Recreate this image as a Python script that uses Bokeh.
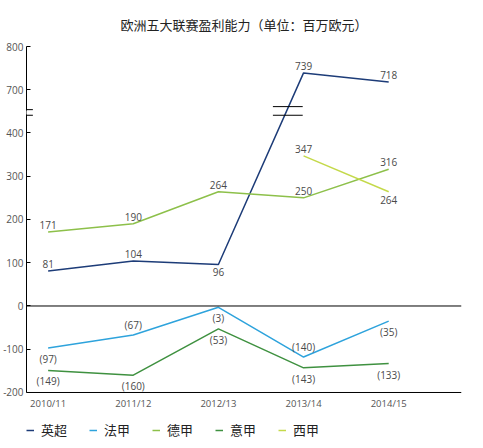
from bokeh.plotting import figure
from bokeh.models import (Span, FixedTicker, Legend, LegendItem, Arrow,
                          ColumnDataSource, Title)
from bokeh.core.properties import value
from bokeh.embed import file_html
from bokeh.resources import INLINE

# seasons on the x axis
seasons = ["2010/11", "2011/12", "2012/13", "2013/14", "2014/15"]

# profit per league (million EUR)
epl = [81, 104, 96, 739, 718]
ligue1 = [-97, -67, -3, -118, -35]      # plotted point for 2013/14 sits near -118
bundesliga = [171, 190, 264, 250, 316]
serie_a = [-149, -160, -53, -143, -133]
laliga = [347, 264]                      # only 2013/14 and 2014/15
laliga_seasons = [3, 4]

# label texts printed next to the points
epl_labels = ["81", "104", "96", "739", "718"]
ligue1_labels = ["(97)", "(67)", "(3)", "(140)", "(35)"]
bundesliga_labels = ["171", "190", "264", "250", "316"]
serie_a_labels = ["(149)", "(160)", "(53)", "(143)", "(133)"]
laliga_labels = ["347", "264"]

y_ticks = [-200, -100, 0, 100, 200, 300, 400, 700, 800]

# broken axis: everything above the break is drawn 200 lower
BREAK_SHIFT = 200
BREAK_AT = 500


def to_axis(v):
    return v - BREAK_SHIFT if v > BREAK_AT else v


FONT = "Open Sans"
CJK = "Noto Sans CJK SC"
LABEL_COLOR = "#4a4a4a"
X0, X1 = -0.254, 4.855
Y_BOTTOM = -200
# the frame reaches below the x axis so the legend fits inside it
p = figure(frame_width=435, frame_height=393, output_backend="svg",
           toolbar_location=None, x_range=(X0, X1), y_range=(-308.7, 600),
           min_border_left=0, min_border_right=8, min_border_top=10,
           min_border_bottom=0)
p.title = None
p.add_layout(Title(text="欧洲五大联赛盈利能力（单位：百万欧元）", align="center",
                   text_font=CJK, text_font_size="13px", text_font_style="normal",
                   text_color="#222222", offset=-13, standoff=25), "above")

p.grid.visible = False
p.outline_line_color = None
p.xaxis.visible = False

# y axis with relabelled ticks
p.yaxis.bounds = (Y_BOTTOM, 600)
p.yaxis.ticker = FixedTicker(ticks=[to_axis(t) for t in y_ticks])
p.yaxis.major_label_overrides = {to_axis(t): str(t) for t in y_ticks}
p.yaxis.major_tick_in = 4
p.yaxis.major_tick_out = 0
p.yaxis.minor_tick_line_color = None
p.yaxis.axis_line_color = "black"
p.yaxis.major_tick_line_color = "black"
p.yaxis.major_label_text_font = FONT
p.yaxis.major_label_text_font_size = "10px"
p.yaxis.major_label_text_color = "#555555"
p.yaxis.major_label_standoff = 3

# x axis line, zero line and season labels
p.add_layout(Span(location=Y_BOTTOM, dimension="width", line_color="black", line_width=1))
p.add_layout(Span(location=0, dimension="width", line_color="black", line_width=1))
x_all = list(range(len(seasons)))
p.text(x_all, [Y_BOTTOM] * len(seasons), text=seasons, text_align="center",
       text_baseline="top", y_offset=5, text_font_size="9.5px",
       text_font=value(FONT), text_color="#555555")

series = [
    ("英超", "#1d3c78", x_all, epl, epl_labels),
    ("法甲", "#2ea3dc", x_all, ligue1, ligue1_labels),
    ("德甲", "#8dc04a", x_all, bundesliga, bundesliga_labels),
    ("意甲", "#3f9140", x_all, serie_a, serie_a_labels),
    ("西甲", "#c4d94a", laliga_seasons, laliga, laliga_labels),
]

# which labels go under their point
below = {
    "英超": [2],
    "法甲": [0, 2, 4],
    "意甲": [0, 1, 2, 3, 4],
    "西甲": [4],
}

items = []
for name, color, xs, ys, labels in series:
    ys_plot = [to_axis(v) for v in ys]
    r = p.line(xs, ys_plot, line_color=color, line_width=1.5)
    items.append(LegendItem(label=name, renderers=[r]))
    up = dict(x=[], y=[], t=[])
    down = dict(x=[], y=[], t=[])
    for x, y, t in zip(xs, ys_plot, labels):
        d = down if x in below.get(name, []) else up
        d["x"].append(x)
        d["y"].append(y)
        d["t"].append(t)
    for d, base, off in ((up, "bottom", -3), (down, "top", 4)):
        p.text("x", "y", text="t", source=ColumnDataSource(d), text_align="center",
               text_baseline=base, y_offset=off, text_font_size="10px",
               text_font=value(FONT), text_color=LABEL_COLOR)


def mark(xa, xb, ya, yb, color="black", width=1):
    p.add_layout(Arrow(start=None, end=None, x_start=xa, x_end=xb,
                       y_start=ya, y_end=yb, line_color=color, line_width=width))


# break marks on the y axis and on the EPL line
mark(X0, X0, 443, 452, "white", 4)
for yb in (441, 454):
    mark(X0 - 0.075, X0 + 0.075, yb, yb)
for yb in (441, 461):
    mark(2.64, 2.99, yb, yb)

legend = Legend(items=items, orientation="horizontal", location=(0, 0),
                label_text_font=CJK, label_text_font_size="13px",
                label_text_color="#222222", glyph_width=8, glyph_height=14,
                label_standoff=7, spacing=22, padding=0, margin=0,
                border_line_color=None, background_fill_alpha=0)
p.add_layout(legend)

open("out.html", "w").write(file_html(p, INLINE))
